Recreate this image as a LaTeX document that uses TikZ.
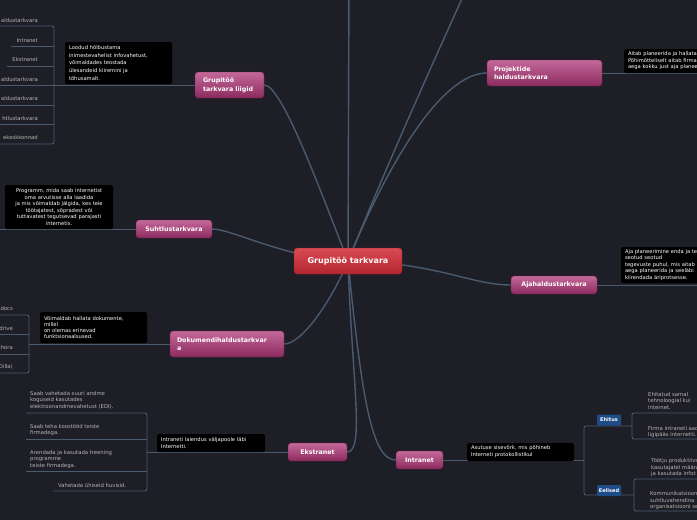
\documentclass[tikz,border=0pt]{standalone}
\usepackage{fontspec}
\setmainfont{DejaVu Sans}
\usetikzlibrary{backgrounds}
\definecolor{bgc}{HTML}{1E1E26}
\definecolor{lc}{HTML}{4A5B70}
\definecolor{mainT}{HTML}{DA4A52}
\definecolor{mainB}{HTML}{B3262F}
\definecolor{mainD}{HTML}{8E1E26}
\definecolor{brT}{HTML}{C4689A}
\definecolor{brB}{HTML}{8C2A5E}
\definecolor{brD}{HTML}{6E2048}
\definecolor{leafc}{HTML}{B5B5B5}
\definecolor{tagc}{HTML}{1E4C86}
\pgfdeclarelayer{lines}
\pgfsetlayers{background,lines,main}
\tikzset{
 conn/.style={draw=lc, line width=1.4pt},
 sub/.style={draw=lc, line width=0.9pt},
 brk/.style={draw=lc, line width=0.9pt, rounded corners=2pt},
 mainnode/.style={rounded corners=3pt, top color=mainT, bottom color=mainB, draw=mainD, line width=0.4pt, text=white, font=\bfseries\fontsize{8}{9}\selectfont, minimum width=108pt, minimum height=26pt, inner sep=0pt},
 branch/.style={rounded corners=3pt, top color=brT, bottom color=brB, draw=brD, line width=0.4pt, text=white, font=\bfseries\fontsize{6.3}{8.5}\selectfont, inner sep=0pt, align=left},
 desc/.style={rounded corners=1.5pt, fill=black, text=white, inner xsep=4pt, inner ysep=0pt, align=left},
 leaf/.style={text=leafc, font=\fontsize{5.3}{6.7}\selectfont, inner sep=0pt, align=left},
 tag/.style={rounded corners=1pt, fill=tagc, text=white, font=\bfseries\fontsize{5}{6}\selectfont, minimum width=24pt, minimum height=11pt, inner sep=0pt},
}
\begin{document}
\begin{tikzpicture}[x=1pt, y=-1pt]
\useasboundingbox (0,0) rectangle (697,520);
\begin{pgfonlayer}{background}
\fill[bgc] (0,0) rectangle (697,520);
\end{pgfonlayer}

% main and branches
\node[mainnode] (main) at (348,261) {Grupitöö tarkvara};
\node[branch, minimum width=69pt, minimum height=26pt, text width=53pt] (liigid) at (229.5,85) {Grupitöö\\tarkvara liigid};
\node[branch, minimum width=76pt, minimum height=18pt] (suhtlus) at (174,229) {Suhtlustarkvara};
\node[branch, minimum width=114pt, minimum height=26pt, text width=100pt] (dok) at (227,344) {Dokumendihaldustarkvar\\a};
\node[branch, minimum width=59pt, minimum height=18pt] (ekstra) at (317.5,452) {Ekstranet};
\node[branch, minimum width=47pt, minimum height=18pt] (intra) at (419.5,460) {Intranet};
\node[branch, minimum width=86pt, minimum height=18pt] (aja) at (554,285) {Ajahaldustarkvara};
\node[branch, minimum width=115pt, minimum height=26pt, text width=101pt] (proj) at (544.5,73) {Projektide\\haldustarkvara};

% descriptions
\node[desc, minimum width=107pt, minimum height=42pt, text width=99pt, font=\fontsize{5.2}{7.8}\selectfont] (d1) at (118.5,63) {Loodud hõlbustama\\inimestevahelist infovahetust,\\võimaldades teostada\\ülesandeid kiiremini ja\\tõhusamalt.};
\node[desc, minimum width=108pt, minimum height=44pt, text width=100pt, align=center, font=\fontsize{5.2}{6.6}\selectfont] (d2) at (59,207) {Programm, mida saab internetist\\oma arvutisse alla laadida\\ja mis võimaldab jälgida, kes teie\\töötajatest, sõpradest või\\tuttavatest tegutsevad parajasti\\internetis.};
\node[desc, minimum width=107pt, minimum height=31pt, text width=99pt, font=\fontsize{5.2}{6.3}\selectfont] (d3) at (93.5,327.5) {Võimaldab hallata dokumente,\\millel\\on olemas erinevad\\funktsionaalsused.};
\node[desc, minimum width=108pt, minimum height=18pt, text width=100pt, font=\fontsize{5.2}{7}\selectfont] (d4) at (211,443) {Intraneti laiendus väljapoole läbi\\Internetti.};
\node[desc, minimum width=107pt, minimum height=18pt, text width=99pt, font=\fontsize{5.2}{7}\selectfont] (d5) at (520.5,452) {Asutuse sisevõrk, mis põhineb\\Interneti protokollistikul};
\node[desc, minimum width=110pt, minimum height=36pt, text width=102pt, font=\fontsize{5.2}{6.5}\selectfont] (d6) at (676,265) {Aja planeerimine enda ja teistega\\seotud seotud\\tegevuste puhul, mis aitab\\aega planeerida ja seeläbi\\kiirendada äriprotsesse.};
\node[desc, minimum width=110pt, minimum height=24pt, text width=102pt, font=\fontsize{5.2}{6.5}\selectfont] (d7) at (679,61) {Aitab planeerida ja hallata\\Põhimõtteliselt aitab firma\\aega kokku just aja planeerimisega};

% tags
\node[tag] (ehitus) at (609,420) {Ehitus};
\node[tag] (eelised) at (609,490.5) {Eelised};

% leaves: liigid
\node[leaf, anchor=east] (la) at (38,21) {aldustarkvara};
\node[leaf, anchor=east] (lb) at (38,41) {Intranet};
\node[leaf, anchor=east] (lc2) at (38,60) {Ekstranet};
\node[leaf, anchor=east] (ld) at (38,80) {aldustarkvara};
\node[leaf, anchor=east] (le) at (38,99) {aldustarkvara};
\node[leaf, anchor=east] (lf) at (38,119) {htlustarkvara};
\node[leaf, anchor=east] (lg) at (38,138) {ekeskkonnad};
% leaves: dok
\node[leaf, anchor=east] (da) at (13,309) {docs};
\node[leaf, anchor=east] (db) at (13,329) {drive};
\node[leaf, anchor=east] (dc) at (13,348) {thora};
\node[leaf, anchor=east] (dd) at (13,367) {Dilla)};
% leaves: ekstranet
\node[leaf, anchor=north west] (ea) at (30,391) {Saab vahetada suuri andme\\koguseid kasutades\\elektroonandmevahetust (EDI).};
\node[leaf, anchor=north west] (eb) at (30,424) {Saab teha koostööd teiste\\firmadega.};
\node[leaf, anchor=north west] (ec) at (30,450) {Arendada ja kasutada treening\\programme\\teiste firmadega.};
\node[leaf, anchor=north west] (ed) at (58,483) {Vahetada ühiseid huvisid.};
% leaves: intranet
\node[leaf, anchor=north west, font=\fontsize{5.3}{6.6}\selectfont] (ia) at (648,392) {Ehitatud samal\\tehnoloogial kui\\internet.};
\node[leaf, anchor=north west, font=\fontsize{5.3}{6.6}\selectfont] (ib) at (648,426) {Firma intraneti aadressile\\ligipääs internetti.};
\node[leaf, anchor=north west, font=\fontsize{5.3}{6.8}\selectfont] (ic) at (651,458) {Töötju produktiivsus\\kasutajatel määrata\\ja kasutada infot};
\node[leaf, anchor=north west, font=\fontsize{5.3}{6.8}\selectfont] (id) at (650,491) {Kommunikatsioon\\suhtluvahendina\\organisatsiooni sees};

% coordinates
\coordinate (topA) at (349,-20);
\coordinate (topB) at (475,-30);
\coordinate (l1) at (0,26); \coordinate (b1t) at (54,26); \coordinate (b1b) at (54,144); \coordinate (l7) at (0,144);
\coordinate (l2a) at (11,46); \coordinate (l2b) at (54,46);
\coordinate (l3a) at (7,66); \coordinate (l3b) at (54,66);
\coordinate (l4) at (0,85);
\coordinate (l5a) at (0,105); \coordinate (l5b) at (54,105);
\coordinate (l6a) at (0,124); \coordinate (l6b) at (54,124);
\coordinate (s1) at (0,229);
\coordinate (k1) at (0,315); \coordinate (k1t) at (29,315); \coordinate (k1b) at (29,373); \coordinate (k4) at (0,373);
\coordinate (k2a) at (0,334); \coordinate (k2b) at (29,334);
\coordinate (k3a) at (0,354); \coordinate (k3b) at (29,354);
\coordinate (kc) at (29,344);
\coordinate (e1) at (26,413); \coordinate (e1t) at (147,413); \coordinate (e1b) at (147,491); \coordinate (e4) at (53,491);
\coordinate (e2a) at (26,439); \coordinate (e2b) at (147,439);
\coordinate (e3a) at (26,471); \coordinate (e3b) at (147,471);
\coordinate (ec1) at (147,452);
\coordinate (ic1) at (584,460);
\coordinate (it) at (584,426); \coordinate (ib2) at (584,495);
\coordinate (ht) at (632,426); \coordinate (gt) at (634,495);
\coordinate (h1) at (700,413); \coordinate (h1b) at (632,413); \coordinate (h2b) at (632,439); \coordinate (h2) at (700,439);
\coordinate (g1) at (700,479); \coordinate (g1b) at (634,479); \coordinate (g2b) at (634,511); \coordinate (g2) at (700,511);
\coordinate (pj) at (700,73);
\coordinate (aj) at (700,285);

\begin{pgfonlayer}{lines}
\draw[conn] (main.center) .. controls (320,190) and (282,85) .. (liigid.east);
\draw[conn] (main.center) .. controls (285,258) and (232,229) .. (suhtlus.east);
\draw[conn] (main.center) .. controls (332,300) and (302,344) .. (dok.east);
\draw[conn] (main.center) .. controls (352,380) and (365,452) .. (ekstra.east);
\draw[conn] (main.center) .. controls (362,400) and (372,460) .. (intra.west);
\draw[conn] (main.center) .. controls (440,263) and (470,285) .. (aja.west);
\draw[conn] (main.center) .. controls (385,170) and (440,73) .. (proj.west);
\draw[conn] (main.center) -- (topA);
\draw[conn] (main.center) .. controls (385,170) and (425,80) .. (topB);
% liigid
\draw[sub] (liigid.west) -- (l4);
\draw[brk] (l1) -- (b1t) -- (b1b) -- (l7);
\draw[sub] (l2a) -- (l2b);
\draw[sub] (l3a) -- (l3b);
\draw[sub] (l5a) -- (l5b);
\draw[sub] (l6a) -- (l6b);
% suhtlus
\draw[sub] (suhtlus.west) -- (s1);
% dok
\draw[sub] (dok.west) -- (kc);
\draw[brk] (k1) -- (k1t) -- (k1b) -- (k4);
\draw[sub] (k2a) -- (k2b);
\draw[sub] (k3a) -- (k3b);
% ekstranet
\draw[sub] (ekstra.west) -- (ec1);
\draw[brk] (e1) -- (e1t) -- (e1b) -- (e4);
\draw[sub] (e2a) -- (e2b);
\draw[sub] (e3a) -- (e3b);
% intranet
\draw[sub] (intra.east) -- (ic1);
\draw[brk] (ht) -- (it) -- (ib2) -- (gt);
\draw[brk] (h1) -- (h1b) -- (h2b) -- (h2);
\draw[brk] (g1) -- (g1b) -- (g2b) -- (g2);
% right
\draw[sub] (proj.east) -- (pj);
\draw[sub] (aja.east) -- (aj);
\end{pgfonlayer}
\end{tikzpicture}
\end{document}
